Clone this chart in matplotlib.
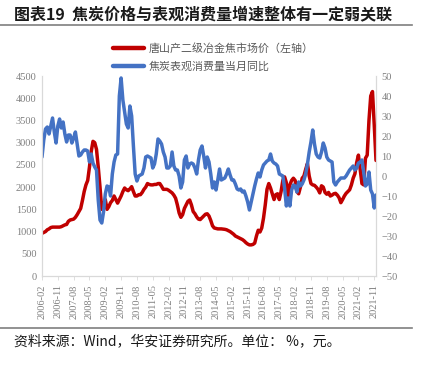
import numpy as np
import pandas as pd
import matplotlib
matplotlib.use('Agg')
import matplotlib.pyplot as plt
from matplotlib.lines import Line2D

plt.rcParams['font.family'] = ['Noto Sans CJK SC', 'DejaVu Sans']

# monthly data, 2006-02 .. 2021-12
months = pd.period_range('2006-02', '2021-12', freq='M')

# 唐山产二级冶金焦市场价 (元/吨, left axis)
price = [
    960, 980, 1000, 1040, 1060, 1090, 1100, 1100, 1100, 1100, 1100, 1110,
    1130, 1150, 1160, 1230, 1260, 1270, 1280, 1320, 1380, 1450, 1520, 1700,
    1900, 2050, 2150, 2450, 2800, 3030, 3000, 2850, 2450, 2000, 1500, 1600,
    1720, 1500, 1560, 1650, 1700, 1800, 1720, 1640, 1720, 1800, 1900, 1980,
    1940, 1920, 1960, 2010, 1900, 1800, 1800, 1830, 1830, 1880, 1950, 2000,
    2080, 2060, 2050, 2050, 2060, 2060, 2080, 2080, 2020, 1950, 1950, 1950,
    1930, 1900, 1870, 1820, 1750, 1600, 1420, 1320, 1380, 1520, 1600, 1680,
    1710, 1600, 1450, 1400, 1330, 1280, 1270, 1310, 1350, 1390, 1400, 1350,
    1250, 1130, 1080, 1070, 1060, 1060, 1060, 1055, 1050, 1040, 1020, 1000,
    970, 940, 900, 880, 860, 840, 820, 790, 750, 720, 700, 700,
    710, 740, 900, 1030, 990, 1080, 1300, 1600, 1950, 2080, 1980, 1850,
    1720, 1830, 1850, 1720, 1900, 2150, 2230, 2100, 1750, 2050, 2150, 2200,
    2150, 1900, 1850, 2000, 2200, 2250, 2400, 2530, 2250, 2080, 2050, 2040,
    2000, 1950, 1870, 2030, 2000, 1880, 1840, 1880, 1800, 1820, 1850, 1860,
    1820, 1760, 1650, 1720, 1800, 1860, 1900, 1940, 2050, 2200, 2300, 2550,
    2720, 2400, 2080, 2050, 2650, 2720, 3500, 4050, 4150, 3400, 2600,
]

# 焦炭表观消费量当月同比 (%, right axis)
consumption_yoy = [
    9.5, 18, 23.5, 24.5, 21, 25, 29, 22, 16.5, 25, 28.5, 24,
    27, 21, 17, 20.5, 20.5, 16.5, 19, 22, 16, 10, 10.5, 12,
    13, 13, 12.5, 7, 11, 6.5, 4.5, 3, -12, -22, -23.5, -18,
    -9, -5, -5.5, -10, 1, 7, 10.5, 11, 40, 49, 38, 32,
    26, 24, 35, 30, 15, 1, -2.5, 0, 0.5, 1, 4, 9.5,
    10, 9.5, 9, 4, 6, 11, 18.5, 17.5, 16, 12, 9.5, 4,
    4, 5, 12, 5, 3, 3, 0, -6, -3, 8, 10, 4,
    6, 6.5, 6, 4, 1, 8, 13, 15, 10, 4, 9.5, 7,
    1, -6, -3, -7, -2, 3.5, -2, -1.5, -1, 1, 3.5, 0.5,
    -2, -2, -4, -6.5, -7, -6.5, -8, -7.5, -10, -13, -17, -13,
    -9, -5, -1.5, 1.5, -0.5, 3, 5.5, 6.5, 7.5, 8, 11, 7.5,
    6.5, 6, 5, 1, 0.5, 0, -6, -15, -11, -15, -7, -4.5,
    -5, -8, -3, -5, -4, -2, 1, 6, 12, 17, 23, 16,
    11, 9.5, 9, 12, 16.5, 14, 9.5, 8, 7.5, 7, -3, -4.5,
    -3, -2, -1, -1, -1, 0, 1.5, 3, 4, 5, 3, 4,
    6.5, 7, 8, 2, -5, -4, 2, -7, -9, -16, -9.5,
]

label_price = '唐山产二级冶金焦市场价（左轴）'
label_yoy = '焦炭表观消费量当月同比'

gray = '#7f7f7f'
spine_gray = '#d9d9d9'
serif = ['Liberation Serif', 'DejaVu Serif']

x = np.arange(len(months))

fig = plt.figure(figsize=(4.26, 3.65), dpi=100)
ax = fig.add_axes([42 / 426, 1 - 276 / 365, (376 - 42) / 426, 200 / 365])
ax2 = ax.twinx()

l1, = ax.plot(x, price, color='#C00000', lw=2.5, solid_capstyle='round')
l2, = ax2.plot(x, consumption_yoy, color='#4472C4', lw=2.5, solid_capstyle='round')

ax.set_xlim(0, len(months) - 1)
ax.set_ylim(0, 4500)
ax.set_yticks(range(0, 4501, 500))
ax2.set_ylim(-50, 50)
ax2.set_yticks(range(-50, 51, 10))

tick_idx = list(range(0, len(months), 9))
ax.set_xticks(tick_idx)
ax.set_xticklabels([months[i].strftime('%Y-%m') for i in tick_idx],
                   rotation=90, fontsize=7.5, color=gray, family=serif)

for a in (ax, ax2):
    for s in a.spines.values():
        s.set_color(spine_gray)
        s.set_linewidth(0.8)
    a.spines['top'].set_visible(False)
    a.tick_params(colors=gray, labelsize=7.5, length=3, width=0.6)
    a.tick_params(axis='y', length=0, pad=4)
    for lab in a.get_yticklabels():
        lab.set_family(serif)
ax.tick_params(axis='x', color=spine_gray, length=3, pad=3)

# title and rules
fig.text(14 / 426, 1 - 14 / 365, '图表19  焦炭价格与表观消费量增速整体有一定弱关联',
         fontsize=11.5, fontweight='bold', color='#1a1a1a', va='center', ha='left')
fig.add_artist(Line2D([0, 412 / 426], [1 - 25 / 365] * 2, color='#7f7f7f', lw=1.2))
fig.add_artist(Line2D([0, 412 / 426], [1 - 328 / 365] * 2, color='#7f7f7f', lw=1.2))

fig.legend([l1, l2], [label_price, label_yoy], loc='upper left',
           bbox_to_anchor=(103 / 426, 1 - 33 / 365), frameon=False,
           fontsize=7.9, handlelength=2.8, labelspacing=0.7, handletextpad=0.5,
           labelcolor='#595959')
for h in fig.legends[0].legend_handles:
    h.set_linewidth(3.2)

fig.text(14 / 426, 1 - 341 / 365, '资料来源：Wind，华安证券研究所。单位： %，元。',
         fontsize=10, color='#1a1a1a', va='center', ha='left')

fig.savefig('out.png', dpi=100)
